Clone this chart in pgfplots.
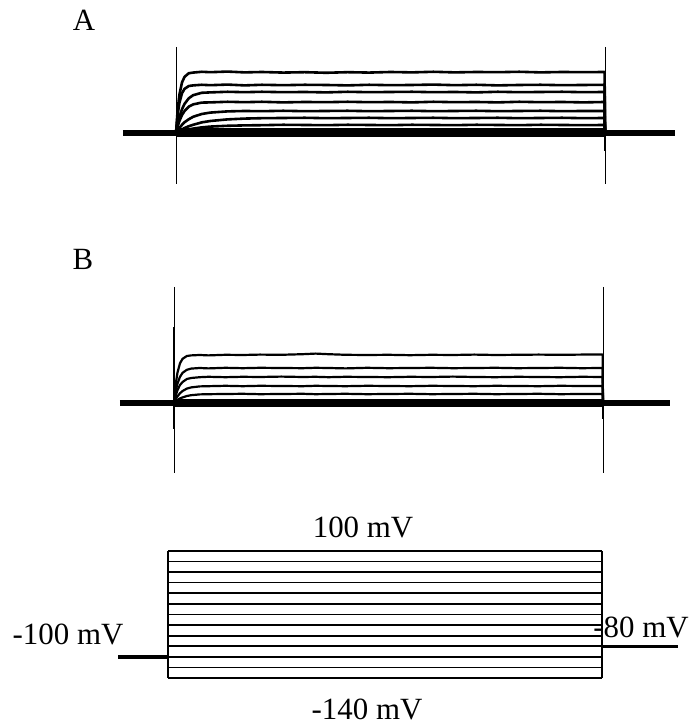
\documentclass[border=0pt]{standalone}
\usepackage{fontspec}
\setmainfont{Liberation Serif}
\usepackage{pgfplots}
\usepackage{pgfplotstable}
\pgfplotsset{compat=1.18}

% Panel A: outward currents (arbitrary units), time in ms
\pgfplotstableread{
t y1 y2 y3 y4 y5 y6 y7
0 0 0 0 0 0 0 0
2 1.19 0.94 0.45 0.34 0.13 0.06 0.03
4 1.92 1.51 0.80 0.60 0.25 0.11 0.06
7 2.53 1.99 1.19 0.90 0.41 0.18 0.10
10 2.81 2.21 1.46 1.10 0.54 0.25 0.13
15 2.99 2.35 1.74 1.32 0.69 0.34 0.18
20 3.02 2.38 1.89 1.43 0.81 0.41 0.22
30 3.06 2.41 2.01 1.52 0.95 0.53 0.28
40 3.04 2.39 2.03 1.53 1.02 0.60 0.32
60 3.07 2.42 2.06 1.56 1.08 0.68 0.36
80 3.03 2.38 2.04 1.54 1.10 0.72 0.38
100 3.05 2.41 2.06 1.56 1.09 0.74 0.39
125 3.02 2.39 2.04 1.53 1.11 0.75 0.41
150 3.04 2.41 2.05 1.55 1.09 0.76 0.40
175 3.01 2.40 2.03 1.54 1.10 0.74 0.39
200 3.04 2.38 2.06 1.56 1.11 0.75 0.41
225 3.02 2.41 2.04 1.54 1.09 0.76 0.40
250 3.05 2.39 2.05 1.55 1.10 0.74 0.39
275 3.03 2.40 2.06 1.53 1.11 0.75 0.41
300 3.06 2.42 2.04 1.56 1.09 0.76 0.40
325 3.03 2.39 2.05 1.54 1.10 0.74 0.39
350 3.05 2.41 2.03 1.55 1.11 0.75 0.41
375 3.04 2.38 2.06 1.53 1.09 0.76 0.40
400 3.06 2.40 2.04 1.56 1.10 0.74 0.39
425 3.03 2.41 2.05 1.54 1.11 0.75 0.41
450 3.05 2.39 2.06 1.55 1.09 0.76 0.40
475 3.04 2.40 2.04 1.53 1.10 0.74 0.39
499.5 3.05 2.41 2.05 1.55 1.10 0.75 0.40
500 0 0 0 0 0 0 0
}\traceA

% Panel B
\pgfplotstableread{
t z1 z2 z3 z4 z5
0 0 0 0 0 0
2 0.94 0.58 0.36 0.19 0.08
4 1.51 0.96 0.64 0.33 0.15
7 1.99 1.31 0.90 0.49 0.23
10 2.21 1.51 1.05 0.60 0.28
15 2.35 1.66 1.20 0.72 0.35
20 2.38 1.72 1.25 0.78 0.39
30 2.40 1.75 1.29 0.83 0.43
40 2.38 1.73 1.31 0.84 0.44
60 2.41 1.76 1.29 0.86 0.45
80 2.40 1.74 1.31 0.84 0.46
100 2.42 1.76 1.30 0.86 0.44
125 2.41 1.75 1.32 0.85 0.45
150 2.44 1.74 1.30 0.84 0.46
165 2.47 1.76 1.31 0.86 0.44
180 2.44 1.75 1.29 0.85 0.45
200 2.41 1.73 1.31 0.84 0.46
225 2.40 1.76 1.30 0.86 0.44
250 2.41 1.74 1.29 0.85 0.45
275 2.39 1.75 1.31 0.84 0.46
300 2.41 1.76 1.30 0.86 0.44
325 2.40 1.74 1.32 0.85 0.45
350 2.42 1.75 1.30 0.84 0.46
375 2.40 1.76 1.29 0.86 0.44
400 2.41 1.74 1.31 0.85 0.45
425 2.42 1.75 1.30 0.84 0.46
450 2.41 1.76 1.29 0.86 0.44
475 2.42 1.74 1.31 0.85 0.45
499.5 2.42 1.75 1.30 0.85 0.45
500 0 0 0 0 0
}\traceB

\begin{document}
\begin{tikzpicture}[x=1bp,y=1bp]
\useasboundingbox (0,0) rectangle (691,725);

% ---------------- Panel A ----------------
\begin{axis}[at={(115.94bp,540bp)}, anchor=south west, scale only axis,
  width=566.3bp, height=139bp, xmin=-70, xmax=590, ymin=-2.6, ymax=4.35,
  hide axis, clip=false,
  every axis plot/.append style={black, no markers, line join=round}]
  \addplot[line width=6bp] coordinates {(-62,0) (0,0)};
  \addplot[line width=9bp] coordinates {(0,0) (500,0)};
  \addplot[line width=6bp] coordinates {(500,0) (582,0)};
  \foreach \c in {y1,y2,y3,y4,y5,y6,y7}{
    \addplot[line width=2.6bp] table[x=t, y=\c] {\traceA};
  }
  \addplot[line width=0.9bp] coordinates {(0,4.3) (0,-2.55)};
  \addplot[line width=0.9bp] coordinates {(500,4.3) (500,-2.55)};
  \addplot[line width=1.6bp] coordinates {(500,0.4) (500,-0.9)};
\end{axis}

% ---------------- Panel B ----------------
\begin{axis}[at={(113.94bp,251bp)}, anchor=south west, scale only axis,
  width=566.3bp, height=188bp, xmin=-70, xmax=590, ymin=-3.55, ymax=5.85,
  hide axis, clip=false,
  every axis plot/.append style={black, no markers, line join=round}]
  \addplot[line width=6bp] coordinates {(-63,0) (0,0)};
  \addplot[line width=8bp] coordinates {(0,0) (500,0)};
  \addplot[line width=6bp] coordinates {(500,0) (578,0)};
  \foreach \c in {z1,z2,z3,z4,z5}{
    \addplot[line width=2.2bp] table[x=t, y=\c] {\traceB};
  }
  \addplot[line width=0.9bp] coordinates {(0,5.8) (0,-3.5)};
  \addplot[line width=0.9bp] coordinates {(500,5.8) (500,-3.5)};
  \addplot[line width=2bp] coordinates {(0,3.8) (0,-1.3)};
  \addplot[line width=1.6bp] coordinates {(500,0.3) (500,-0.8)};
\end{axis}

% ---------------- Voltage protocol ----------------
\begin{axis}[at={(115.92bp,41.7bp)}, anchor=south west, scale only axis,
  width=568.5bp, height=137.6bp, xmin=-60, xmax=595, ymin=-150, ymax=110,
  hide axis, clip=false,
  every axis plot/.append style={black, no markers}]
  \addplot[line width=4bp] coordinates {(-57.6,-100) (0,-100)};
  \addplot[line width=3bp] coordinates {(500,-80) (87.6+500,-80)};
  \addplot[line width=1.4bp] coordinates {(0,-140) (0,100)};
  \addplot[line width=1.4bp] coordinates {(500,-140) (500,100)};
  \addplot[line width=2bp] coordinates {(0,100) (500,100)};
  \addplot[line width=1.4bp] coordinates {(0,80) (500,80)};
  \addplot[line width=1.8bp] coordinates {(0,60) (500,60)};
  \addplot[line width=1.4bp] coordinates {(0,40) (500,40)};
  \addplot[line width=1.8bp] coordinates {(0,20) (500,20)};
  \addplot[line width=1.4bp] coordinates {(0,0) (500,0)};
  \addplot[line width=1.8bp] coordinates {(0,-20) (500,-20)};
  \addplot[line width=1.4bp] coordinates {(0,-40) (500,-40)};
  \addplot[line width=1.8bp] coordinates {(0,-60) (500,-60)};
  \addplot[line width=1.8bp] coordinates {(0,-80) (500,-80)};
  \addplot[line width=1.4bp] coordinates {(0,-100) (500,-100)};
  \addplot[line width=1.8bp] coordinates {(0,-120) (500,-120)};
  \addplot[line width=1.4bp] coordinates {(0,-140) (500,-140)};
\end{axis}

% ---------------- Labels ----------------
\begin{scope}[every node/.style={font=\fontsize{31}{36}\selectfont, inner sep=0pt}]
  \node at (84,705) {A};
  \node at (83,466) {B};
  \node at (363,198) {100 mV};
  \node at (68,91) {-100 mV};
  \node at (641,98) {-80 mV};
  \node at (367,16) {-140 mV};
\end{scope}
\end{tikzpicture}
\end{document}
